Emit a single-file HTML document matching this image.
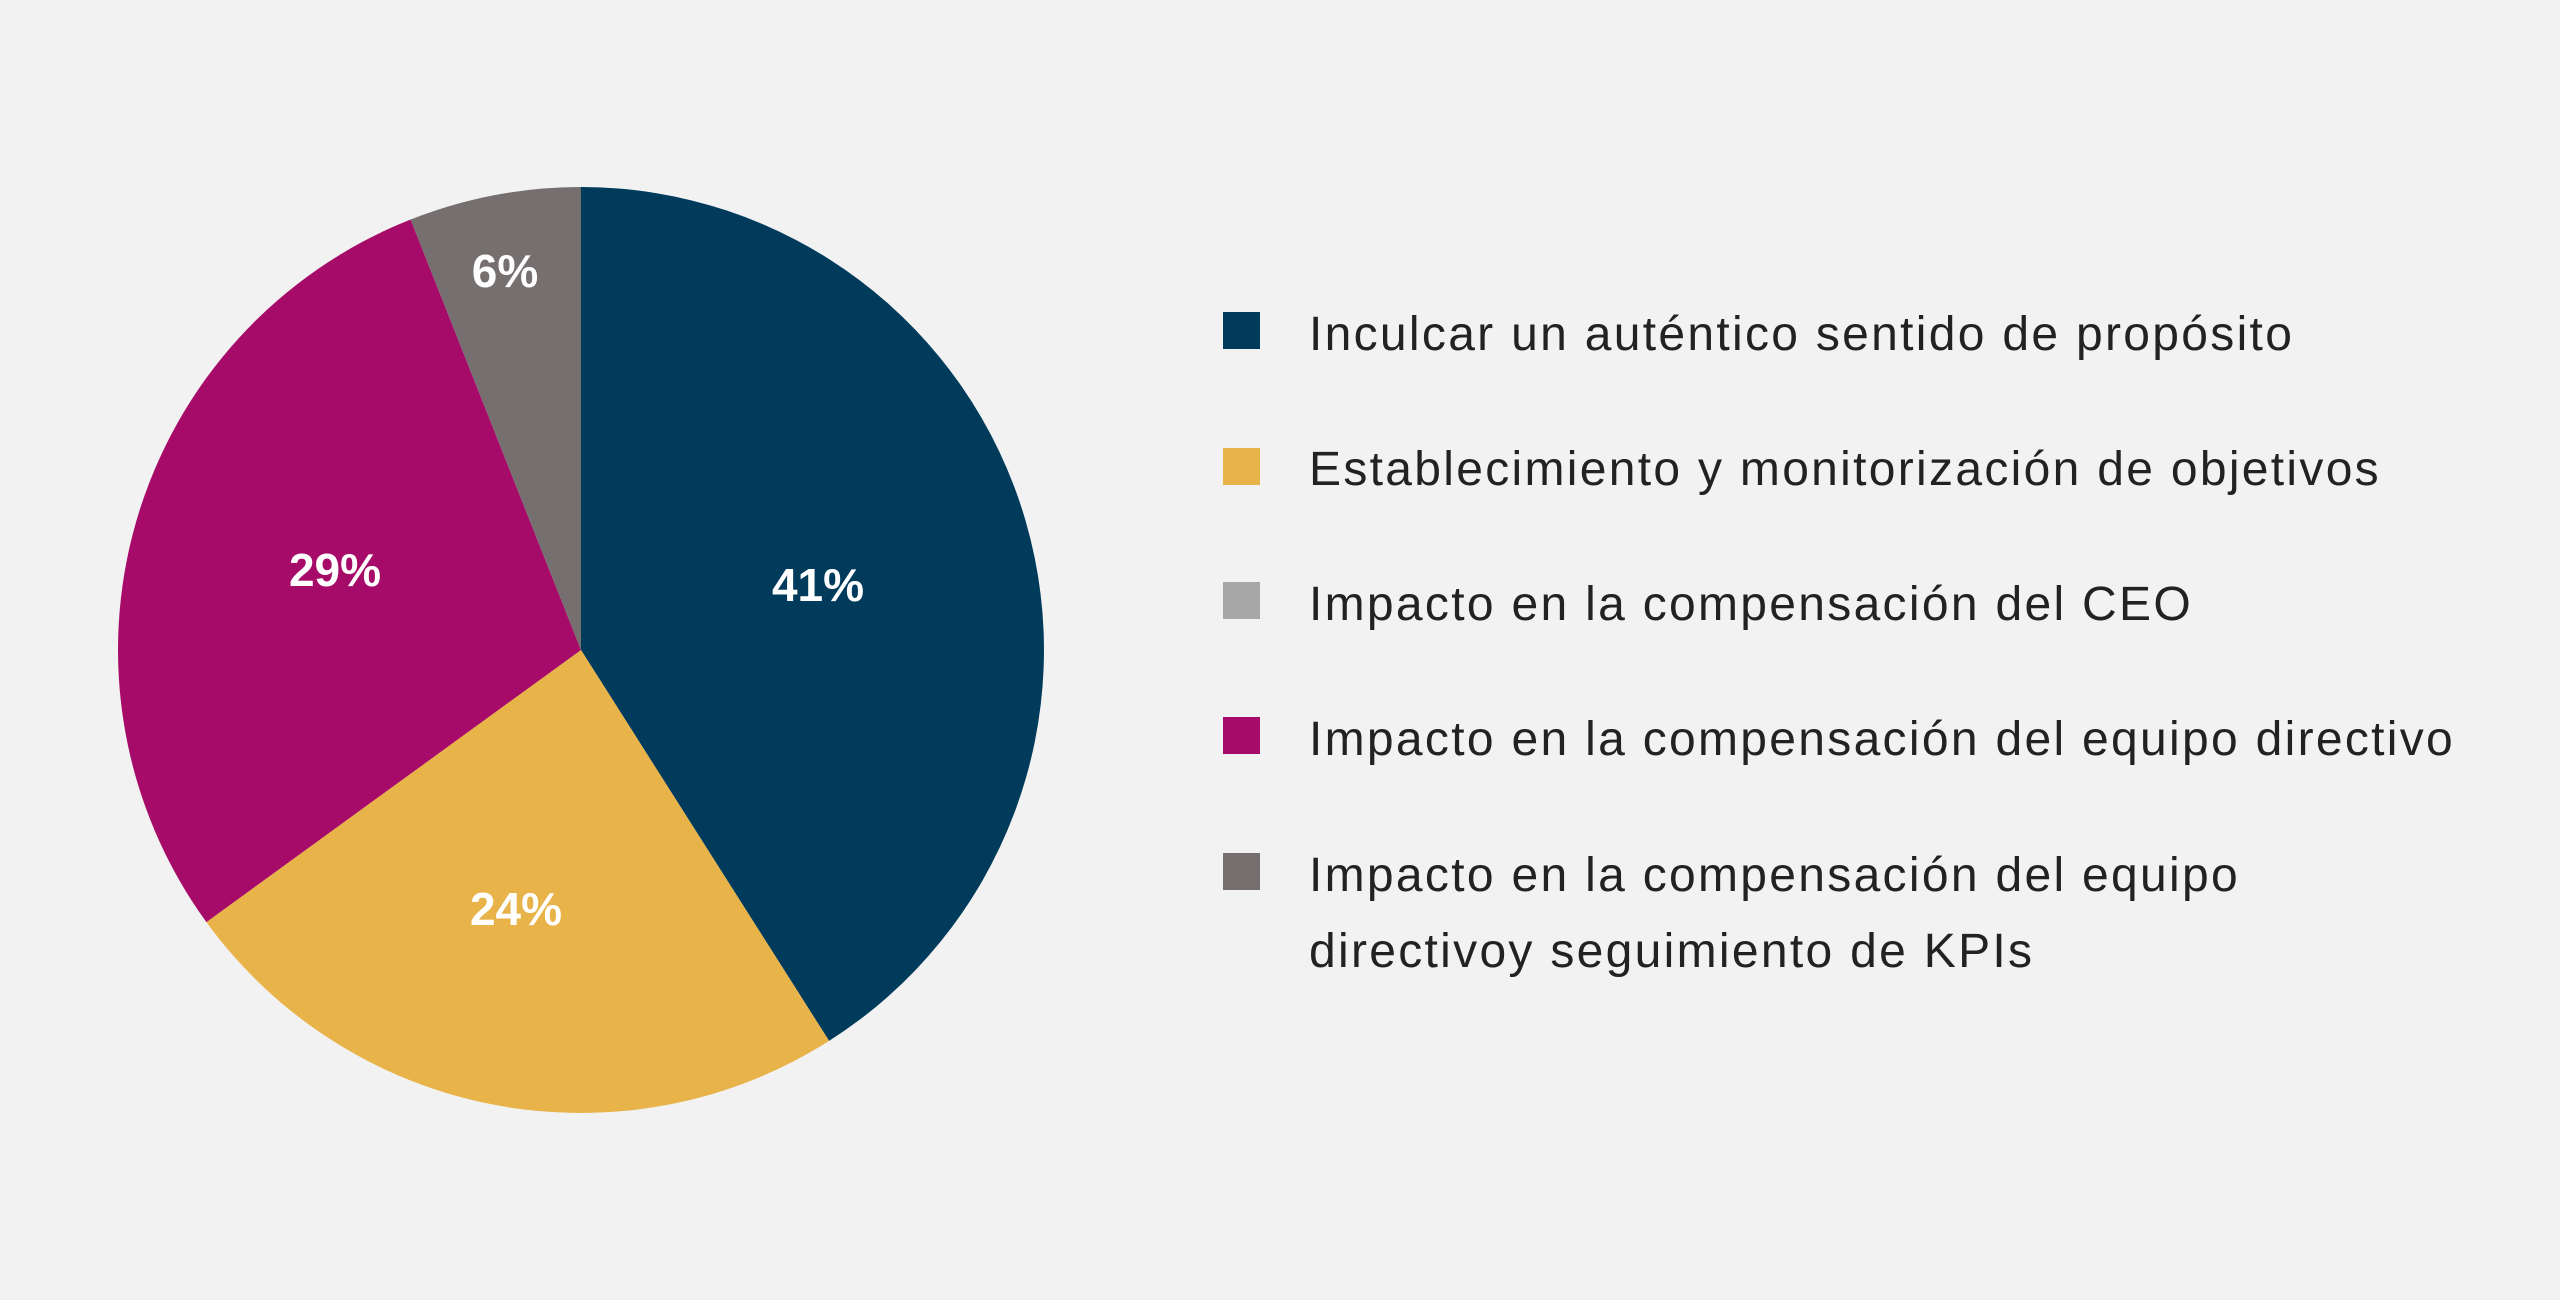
<!DOCTYPE html>
<html><head><meta charset="utf-8"><style>
html,body{margin:0;padding:0;background:#f2f2f2;}
body{width:2560px;height:1300px;overflow:hidden;position:relative;font-family:"Liberation Sans",sans-serif;}
.sq{position:absolute;left:1223px;width:37px;height:37px;}
.t{position:absolute;left:1309px;font-size:48px;letter-spacing:2.3px;color:#222;line-height:76px;white-space:nowrap;}
</style></head><body>
<svg width="2560" height="1300" style="position:absolute;left:0;top:0">
<path d="M581,650 L581,187 A463,463 0 0 1 829.1,1040.9 Z" fill="#003b5c"/>
<path d="M581,650 L829.1,1040.9 A463,463 0 0 1 206.4,922.1 Z" fill="#e8b349"/>
<path d="M581,650 L206.4,922.1 A463,463 0 0 1 410.6,219.5 Z" fill="#a70b69"/>
<path d="M581,650 L410.6,219.5 A463,463 0 0 1 581,187 Z" fill="#75706f"/>
<g fill="#fff" font-family="Liberation Sans, sans-serif" font-weight="bold" font-size="46" text-anchor="middle">
<text x="818" y="601">41%</text>
<text x="516" y="925">24%</text>
<text x="335" y="586">29%</text>
<text x="505" y="287">6%</text>
</g>
</svg>
<div class="sq" style="top:312px;background:#003b5c"></div>
<div class="t" style="top:297px">Inculcar un auténtico sentido de propósito</div>
<div class="sq" style="top:448px;background:#e8b349"></div>
<div class="t" style="top:432px">Establecimiento y monitorización de objetivos</div>
<div class="sq" style="top:582px;background:#a7a7a7"></div>
<div class="t" style="top:567px">Impacto en la compensación del CEO</div>
<div class="sq" style="top:717px;background:#a70b69"></div>
<div class="t" style="top:702px">Impacto en la compensación del equipo directivo</div>
<div class="sq" style="top:853px;background:#75706f"></div>
<div class="t" style="top:838px">Impacto en la compensación del equipo<br>directivoy seguimiento de KPIs</div>
</body></html>
